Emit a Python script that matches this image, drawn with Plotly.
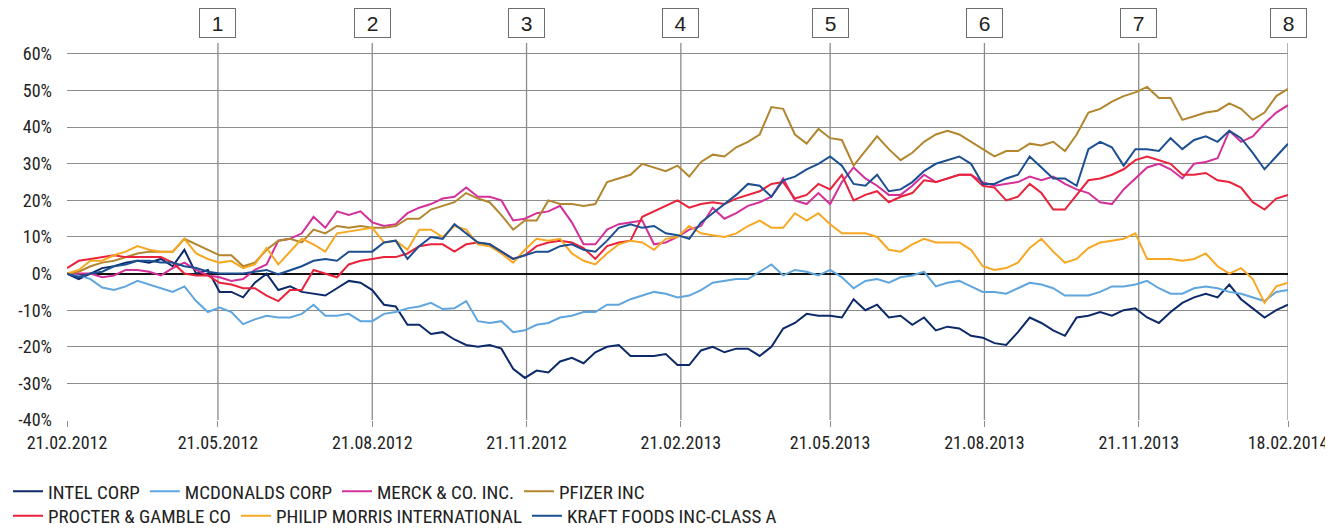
import pandas as pd
import plotly.graph_objects as go

# weekly sampling dates (21.02.2012 .. 18.02.2014)
DATES = pd.date_range("2012-02-21", periods=105, freq="7D")

INTEL = [0, -1.5, 0, 1.5, 2, 3, 3.5, 3, 4, 2, 6.5, 0, 1, -5, -5, -6.5, -2.5, 0,
         -4.5, -3.5, -5, -5.5, -6, -4, -2, -2.5, -4.5, -8.5, -9, -14, -14, -16.5, -16, -18, -19.5,
         -20, -19.5, -20.5, -26, -28.5, -26.5, -27, -24, -23, -24.5, -21.5, -20, -19.5, -22.5, -22.5, -22.5, -22, -25,
         -25, -21, -20, -21.5, -20.5, -20.5, -22.5, -20, -15, -13.5, -11, -11.5, -11.5, -12, -7, -10, -8.5,
         -12, -11.5, -14, -12, -15.5, -14.5, -15, -17, -17.5, -19, -19.5, -16, -12, -13.5, -15.5, -17, -12, -11.5,
         -10.5, -11.5, -10, -9.5, -12, -13.5, -10.5, -8, -6.5, -5.5, -6.5, -3, -7, -9.5, -12, -10, -8.5]

MCDONALDS = [0, -0.5, -1.5, -3.8, -4.5, -3.5, -2, -3, -3.8, -5, -3.5, -7.5, -10.5, -9.3, -10.5, -13.8, -12.5, -11.5,
             -12, -12, -11, -8.5, -11.5, -11.5, -11, -13, -13, -11, -10.5, -9.5, -9, -8, -9.7, -9.5, -7.5,
             -13, -13.5, -13, -16, -15.5, -14, -13.5, -12, -11.5, -10.5, -10.5, -8.5, -8.5, -7, -6, -5, -5.5, -6.5,
             -6, -4.5, -2.5, -2, -1.5, -1.5, 0.5, 2.5, -0.5, 1, 0.5, -0.5, 1, -1, -4, -2, -1.5,
             -2.5, -1, -0.5, 0.5, -3.5, -2.5, -2, -3.5, -5, -5, -5.5, -4, -2.5, -3, -4, -6, -6, -6,
             -5, -3.5, -3.5, -3, -2, -4, -5.5, -5.5, -4, -3.5, -4, -5, -5.5, -6.5, -7.5, -5, -4.5]

MERCK = [0, 0, 0, -1, -0.5, 1, 1, 0.5, -0.5, 1.5, 3, 1, -0.5, -1, -2, -1.5, 1, 2.5,
         9, 9.5, 11, 15.5, 12.5, 17, 16, 17, 14, 13, 13.5, 16.5, 18, 19, 20.5, 21, 23.5,
         21, 21, 20, 14.5, 15, 16.5, 17, 18.5, 14, 8, 8, 12, 13.5, 14, 14.5, 8, 8.5, 10,
         12, 13, 18, 15, 16.5, 18.5, 19.5, 21, 26, 20, 19, 22, 19, 25, 29, 26, 24,
         21.5, 21.5, 24, 27, 25, 26, 27, 27, 25, 24, 24.5, 25, 26.5, 25.5, 26.5, 24.5, 23, 22,
         19.5, 19, 23, 26, 29, 30, 28.5, 26, 30, 30.5, 31.5, 39, 36, 37.5, 41, 44, 46]

PFIZER = [0, 0.5, 2, 3, 3.5, 4.5, 5.5, 6, 6, 6, 9.5, 8, 6.5, 5, 5, 2, 3, 6.5,
          9, 9.5, 8.5, 12, 11, 13, 12.5, 13, 12.5, 12.5, 13, 15, 15, 17.5, 18.5, 19.5, 22,
          20.5, 19.5, 16, 12, 14.5, 14.5, 20, 19, 19, 18.5, 19, 25, 26, 27, 30, 29, 28, 29.5,
          26.5, 30.5, 32.5, 32, 34.5, 36, 38, 45.5, 45, 38, 35.5, 39.5, 37, 36.5, 29.5, 33.5, 37.5,
          34, 31, 33, 36, 38, 39, 38, 36, 34, 32, 33.5, 33.5, 35.5, 35, 36, 33.5, 38, 44,
          45, 47, 48.5, 49.5, 51, 48, 48, 42, 43, 44, 44.5, 46.5, 45, 42, 44, 48.5, 50.5]

PROCTER = [1.5, 3.5, 4, 4.5, 5, 4.5, 4.5, 4.5, 4.5, 3, 0, -0.5, -0.5, -2.5, -3, -4, -4, -6,
           -7.5, -4.5, -4.5, 1, 0, -1, 2.5, 3.5, 4, 4.5, 4.5, 5.5, 7.5, 8, 8, 6, 8,
           8.5, 8, 6, 4, 5, 7.5, 8.5, 9, 8.5, 7, 4, 7.5, 8.5, 9, 15.5, 17, 18.5, 20,
           18, 19, 19.5, 19, 20.5, 21.5, 22.5, 24.5, 25, 20.5, 21.5, 24.5, 23, 27, 20, 21.5, 22.5,
           19.5, 21, 22, 25.5, 25, 26, 27, 27, 24, 23.5, 20, 21, 24.5, 22, 17.5, 17.5, 21.5, 25.5,
           26, 27, 28.5, 31, 32, 31, 30, 27, 27, 27.5, 25.5, 25, 23.5, 19.5, 17.5, 20.5, 21.5]

PHILIP_MORRIS = [0, 1, 3.5, 3.5, 5, 6, 7.5, 6.5, 6, 6, 9.5, 5.5, 4, 3, 3.5, 1.5, 2.5, 7,
                 2.5, 6, 9.5, 8, 6, 11, 11.5, 12, 12.5, 8.5, 9, 6.5, 12, 12, 10, 13, 12,
                 8, 7.5, 5.5, 3, 6.5, 9.5, 9, 9.5, 5.5, 3.5, 2.5, 5.5, 8, 9, 8.5, 6.5, 9.5, 10,
                 13, 11, 10.5, 10, 11, 13, 14.5, 12.5, 12.5, 16.5, 14.5, 16.5, 13.5, 11, 11, 11, 10,
                 6.5, 6, 8, 9.5, 8.5, 8.5, 8.5, 6.5, 2, 1, 1.5, 3, 7, 9.5, 6, 3, 4, 7,
                 8.5, 9, 9.5, 11, 4, 4, 4, 3.5, 4, 5.5, 2, 0, 1.5, -1.5, -8, -3.5, -2.5]

KRAFT = [0, -1, 0, 0.5, 2, 2.5, 3.5, 3.5, 3, 3, 2, 1.5, 0.5, 0, 0, 0, 0.5, 1,
         -0.2, 1, 2, 3.5, 4, 3.5, 6, 6, 6, 8.5, 9, 4, 7.5, 10, 9.5, 13.5, 11,
         8.5, 8, 6, 4, 5, 6, 6, 7.5, 8, 6.5, 6, 9, 12.5, 13.5, 12.5, 13, 11, 10.5,
         9.5, 14, 16.5, 19, 21.5, 24.5, 24, 21, 25.5, 26.5, 28.5, 30, 32, 29.5, 24.5, 24, 27,
         22.5, 23, 25, 28, 30, 31, 32, 30, 24.5, 24.5, 26, 27, 32, 29, 26, 26, 24, 34,
         36, 34.5, 29.5, 34, 34, 33.5, 37, 34, 36.5, 37.5, 36, 39, 37, 33, 28.5, 32, 35.5]

SERIES = [
    ("INTEL CORP", INTEL, "#0c2a6a", "legend"),
    ("MCDONALDS CORP", MCDONALDS, "#5fa5de", "legend"),
    ("MERCK & CO. INC.", MERCK, "#d4309a", "legend"),
    ("PFIZER INC", PFIZER, "#b2862e", "legend"),
    ("PROCTER & GAMBLE CO", PROCTER, "#e8233b", "legend2"),
    ("PHILIP MORRIS INTERNATIONAL", PHILIP_MORRIS, "#f7a823", "legend2"),
    ("KRAFT FOODS INC-CLASS A", KRAFT, "#1c4f92", "legend2"),
]

TICK_DATES = ["2012-02-21", "2012-05-21", "2012-08-21", "2012-11-21", "2013-02-21",
              "2013-05-21", "2013-08-21", "2013-11-21", "2014-02-18"]
TICK_LABELS = ["21.02.2012", "21.05.2012", "21.08.2012", "21.11.2012", "21.02.2013",
               "21.05.2013", "21.08.2013", "21.11.2013", "18.02.2014"]
MARKER_DATES = TICK_DATES[1:]
MARKER_LABELS = ["1", "2", "3", "4", "5", "6", "7", "8"]

Y_TICKS = [-40, -30, -20, -10, 0, 10, 20, 30, 40, 50, 60]
Y_LABELS = [f"{v}%" for v in Y_TICKS]

FONT = "Roboto Condensed, Liberation Sans Narrow, Arial Narrow, Liberation Sans, sans-serif"
BOX_FONT = "Liberation Sans, Arial, sans-serif"
GRID = "#8c8c8c"
TEXT = "#222222"
CLEAR = "rgba(0,0,0,0)"

fig = go.Figure()

# vertical period lines
for d in MARKER_DATES:
    fig.add_shape(type="line", xref="x", yref="paper", x0=d, x1=d, y0=0, y1=1,
                  line=dict(color=GRID, width=1.3), layer="below")

for name, vals, color, leg in SERIES:
    fig.add_trace(go.Scatter(x=DATES, y=vals, mode="lines", name=name,
                             line=dict(color=color, width=2), legend=leg))

for d, lab in zip(MARKER_DATES, MARKER_LABELS):
    fig.add_annotation(x=d, xref="x", y=1, yref="paper", yanchor="bottom", yshift=5,
                       text=lab, showarrow=False, width=33, height=26,
                       bordercolor="#6e6e6e", borderwidth=1, bgcolor="white",
                       font=dict(size=21, color=TEXT, family=BOX_FONT))

# the page adds an 8px body margin, so the figure is sized 8px smaller
fig.update_layout(
    width=1325, height=522,
    margin=dict(l=59, r=45, t=35, b=110, autoexpand=False),
    paper_bgcolor="white", plot_bgcolor="white",
    font=dict(family=FONT, size=17, color=TEXT),
    showlegend=True,
    legend=dict(orientation="h", xref="container", yref="container",
                x=-0.009, xanchor="left", y=0.074, yanchor="middle", bgcolor=CLEAR,
                itemwidth=30, font=dict(size=19), tracegroupgap=0, itemclick=False),
    legend2=dict(orientation="h", xref="container", yref="container",
                 x=-0.009, xanchor="left", y=0.027, yanchor="middle", bgcolor=CLEAR,
                 itemwidth=30, font=dict(size=19), tracegroupgap=0, itemclick=False),
)

fig.update_xaxes(
    type="date",
    range=[TICK_DATES[0], TICK_DATES[-1]],
    tickmode="array", tickvals=TICK_DATES, ticktext=TICK_LABELS,
    showgrid=False, ticks="outside", ticklen=6, tickcolor=GRID,
    showline=False, zeroline=False, tickfont=dict(size=18), automargin=False,
)
fig.update_yaxes(
    range=[-40, 63],
    tickmode="array", tickvals=Y_TICKS, ticktext=Y_LABELS,
    showgrid=True, gridcolor=GRID, gridwidth=1.3,
    zeroline=True, zerolinecolor="#111", zerolinewidth=1.6,
    showline=False, ticks="", ticklabelstandoff=14, tickfont=dict(size=18), automargin=False,
)

fig.write_html("out.html")
